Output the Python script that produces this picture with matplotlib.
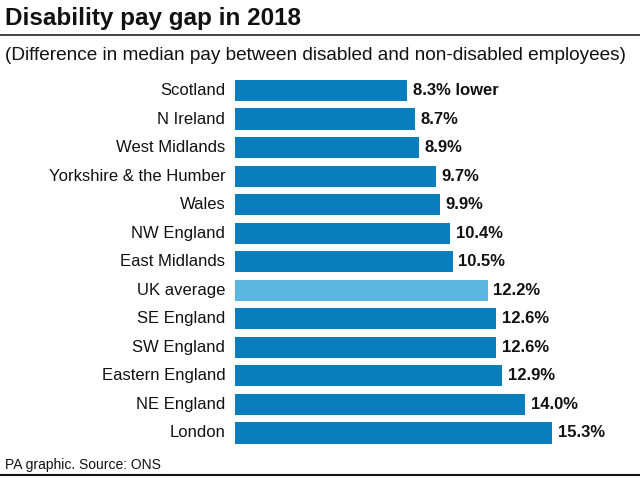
import matplotlib
matplotlib.use("Agg")
import matplotlib.pyplot as plt
from matplotlib.lines import Line2D

regions = ["Scotland", "N Ireland", "West Midlands", "Yorkshire & the Humber", "Wales",
           "NW England", "East Midlands", "UK average", "SE England", "SW England",
           "Eastern England", "NE England", "London"]
values = [8.3, 8.7, 8.9, 9.7, 9.9, 10.4, 10.5, 12.2, 12.6, 12.6, 12.9, 14.0, 15.3]
value_labels = ["8.3% lower", "8.7%", "8.9%", "9.7%", "9.9%", "10.4%", "10.5%",
                "12.2%", "12.6%", "12.6%", "12.9%", "14.0%", "15.3%"]
highlight = "UK average"

W, H = 640, 482
fig = plt.figure(figsize=(6.4, 4.82), dpi=100)
plt.rcParams['font.family'] = ['Liberation Sans', 'DejaVu Sans']

x0, x1 = 235, 552
ytop, ybot = 76.25, 447.25
ax = fig.add_axes([x0 / W, 1 - ybot / H, (x1 - x0) / W, (ybot - ytop) / H])
dark = "#0a7dbc"
light = "#5ab6de"
colors = [light if r == highlight else dark for r in regions]
ypos = list(range(len(regions)))
ax.barh(ypos, values, height=0.74, color=colors)
ax.set_xlim(0, max(values))
ax.set_ylim(len(regions) - 0.5, -0.5)
ax.axis("off")
for y, v, lab, r in zip(ypos, values, value_labels, regions):
    ax.annotate(lab, (v, y), xytext=(4, 0), textcoords="offset points",
                ha="left", va="center", fontsize=12, fontweight="bold", color="#111111")
    ax.annotate(r, (0, y), xytext=(-7, 0), textcoords="offset points",
                ha="right", va="center", fontsize=12, color="#111111")

fig.text(5 / W, 1 - 19 / H, "Disability pay gap in 2018", ha="left", va="center",
         fontsize=17.5, fontweight="bold", color="#111111")
fig.add_artist(Line2D([0, 1], [1 - 35 / H, 1 - 35 / H], color="#222222", lw=1.2))
fig.text(5 / W, 1 - 56 / H, "(Difference in median pay between disabled and non-disabled employees)",
         ha="left", va="center", fontsize=13.7, color="#111111")
fig.text(5 / W, 1 - 465 / H, "PA graphic. Source: ONS", ha="left", va="center",
         fontsize=10, color="#111111")
fig.add_artist(Line2D([0, 1], [1 - 475 / H, 1 - 475 / H], color="#111111", lw=1.5))

fig.savefig("out.png", dpi=100, facecolor="white")
